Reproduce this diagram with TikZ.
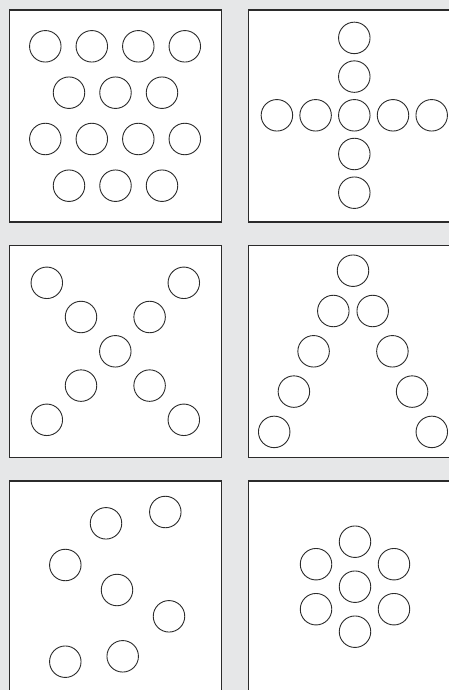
\documentclass[tikz,border=0pt]{standalone}
\usepackage{xcolor}
\usetikzlibrary{positioning,calc}

\definecolor{pagegray}{HTML}{E6E7E8}
\definecolor{inkgray}{HTML}{2B2B2B}

\begin{document}
\begin{tikzpicture}[
			x=1pt, y=-1pt,
			node distance=6.3pt,
			panel/.style={draw=inkgray, line width=1.1pt, fill=white},
			ball/.style={circle, draw=inkgray, line width=0.9pt, minimum size=31.5pt, inner sep=0pt}
			]
			\useasboundingbox (0,0) rectangle (449,690);
			\fill[pagegray] (0,0) rectangle (449,690);
			\clip (0,0) rectangle (449,690);
			
			% panels
			\foreach \px/\py in {9.3/10, 248.3/10, 9.3/245.7, 248.3/245.7, 9.3/481, 248.3/481}
				\draw[panel] (\px,\py) rectangle ++(212,212);
			
			% grid
			\foreach \r/\y in {1/46.3, 3/139}
				\foreach \c in {1,...,4}
					\node[ball] (grid\r\c) at ({45.3+46.5*(\c-1)},\y) {};
			\foreach \r/\y in {2/92.7, 4/185.7}
				\foreach \c in {1,...,3}
					\node[ball] (grid\r\c) at ({69+46.5*(\c-1)},\y) {};
			
			% cross
			\node[ball] (crossc) at (354.3,115.3) {};
			\node[ball, above=of crossc] (crossn1) {};
			\node[ball, above=of crossn1] (crossn2) {};
			\node[ball, below=of crossc] (crosss1) {};
			\node[ball, below=of crosss1] (crosss2) {};
			\node[ball, left=of crossc] (crossw1) {};
			\node[ball, left=of crossw1] (crossw2) {};
			\node[ball, right=of crossc] (crosse1) {};
			\node[ball, right=of crosse1] (crosse2) {};
			
			% diagonal x
			\node[ball] (xc) at (115.3,351.3) {};
			\foreach \dx/\dy [count=\i] in {-1/-1, 1/-1, -1/1, 1/1} {
				\node[ball] (xin\i) at ({115.3+34.3*\dx},{351.3+34.3*\dy}) {};
				\node[ball] (xout\i) at ({115.3+68.5*\dx},{351.3+68.5*\dy}) {};
			}
			
			% peak
			\node[ball] (peak) at (353,270.7) {};
			\foreach \k in {1,...,4} {
				\node[ball] (peakl\k) at ({353-19.7*\k},{270.7+40.3*\k}) {};
				\node[ball] (peakr\k) at ({353+19.7*\k},{270.7+40.3*\k}) {};
			}
			
			% scattered
			\foreach \sx/\sy [count=\i] in {106/523.3, 165.3/512, 65.3/565, 117/590, 169/616.3, 65.3/661.7, 122.7/656.3}
				\node[ball] (spot\i) at (\sx,\sy) {};
			
			% hexagon
			\node[ball] (hexc) at (355,586.7) {};
			\foreach \a [count=\i] in {90,150,210,270,330,30}
				\node[ball] (hex\i) at ($(hexc)+(\a:45)$) {};
		\end{tikzpicture}
\end{document}
